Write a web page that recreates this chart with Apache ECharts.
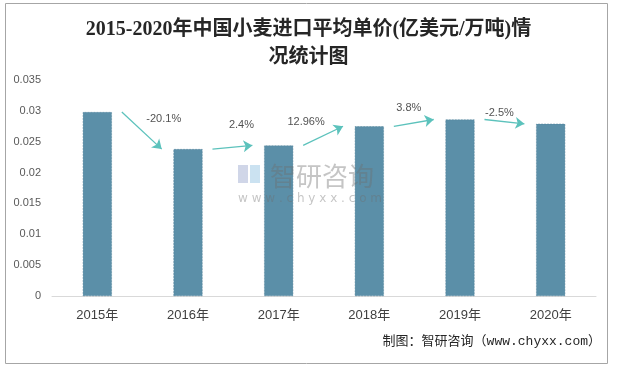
<!DOCTYPE html>
<html>
<head>
<meta charset="utf-8">
<script src="https://cdn.jsdelivr.net/npm/echarts@6/dist/echarts.min.js"></script>
<style>html,body{margin:0;padding:0;background:#fff;}#c{width:617px;height:367px;}</style>
</head>
<body>
<div id="c"></div>
<script>
const categories = ['2015年','2016年','2017年','2018年','2019年','2020年'];
const prices = [0.0298, 0.0238, 0.0244, 0.0275, 0.0286, 0.0279];
const growthLabels = ['-20.1%','2.4%','12.96%','3.8%','-2.5%'];
const yTicks = { min: 0, max: 0.035, interval: 0.005 };

// styling: arrow start/end offsets (category units) and label pixel offsets
const arrowStart = 0.27, arrowEnd = 0.71;
const labelOffsets = [[22,-12],[9,-22],[-17,-14],[-5,-15],[-5,-9]];

const arrowData = [];
const labelData = [];
for (let i = 0; i < prices.length - 1; i++) {
  const s = [i + arrowStart, prices[i]];
  const e = [i + arrowEnd, prices[i + 1]];
  arrowData.push({ coords: [s, e] });
  labelData.push({
    value: [(s[0] + e[0]) / 2, (s[1] + e[1]) / 2],
    label: { offset: labelOffsets[i], formatter: growthLabels[i] }
  });
}

const chart = echarts.init(document.getElementById('c'));
chart.setOption({
  animation: false,
  backgroundColor: '#fff',
  title: {
    text: '2015-2020年中国小麦进口平均单价(亿美元/万吨)情\n况统计图',
    left: 'center',
    top: 11,
    textStyle: {
      fontFamily: "'Liberation Serif','Noto Sans CJK SC'",
      fontSize: 20,
      fontWeight: 'bold',
      color: '#262626',
      lineHeight: 28
    }
  },
  grid: { left: 52, right: 21, top: 80, bottom: 71, containLabel: false },
  xAxis: [{
    type: 'category',
    data: categories,
    axisLine: { lineStyle: { color: '#d9d9d9', width: 1 } },
    axisTick: { show: false },
    axisLabel: { color: '#404040', fontSize: 13, margin: 13, fontFamily: "'Liberation Sans','Noto Sans CJK SC'" }
  }, {
    type: 'value', min: -0.5, max: 5.5, show: false
  }],
  yAxis: {
    type: 'value',
    min: yTicks.min, max: yTicks.max, interval: yTicks.interval,
    axisLine: { show: false },
    axisTick: { show: false },
    splitLine: { show: false },
    axisLabel: { color: '#595959', fontSize: 11, margin: 11, fontFamily: "'Liberation Sans',sans-serif" }
  },
  series: [{
    type: 'bar',
    data: prices,
    barWidth: 29,
    itemStyle: { color: '#5b8fa8', borderColor: '#4f7f96', borderWidth: 0.5, borderType: 'dashed' }
  }, {
    type: 'lines',
    coordinateSystem: 'cartesian2d',
    xAxisIndex: 1,
    symbol: ['none', 'arrow'],
    symbolSize: 9,
    lineStyle: { color: '#5cc2bc', width: 1.3, opacity: 1, curveness: 0 },
    data: arrowData,
    z: 5
  }, {
    type: 'scatter',
    xAxisIndex: 1,
    symbolSize: 0,
    data: labelData,
    label: {
      show: true, position: 'inside',
      color: '#262626', fontSize: 11,
      fontFamily: "'Liberation Sans',sans-serif"
    },
    z: 6
  }],
  graphic: [
    { type: 'rect', shape: { x: 5.5, y: 3.5, width: 602, height: 360 }, style: { fill: 'none', stroke: '#a6a6a6', lineWidth: 1 }, z: 0, silent: true },
    { type: 'group', left: 238, top: 163, zlevel: 1, z: 100, silent: true, children: [
      { type: 'rect', zlevel: 1, shape: { x: 0, y: 0, width: 10, height: 18 }, style: { fill: 'rgba(150,165,205,0.45)' } },
      { type: 'rect', zlevel: 1, shape: { x: 12, y: 0, width: 10, height: 18 }, style: { fill: 'rgba(140,190,225,0.45)' } },
      { type: 'text', zlevel: 1, x: 32, y: -2, style: { text: '智研咨询', font: "26px 'Noto Sans CJK SC'", fill: 'rgba(110,110,110,0.4)' } },
      { type: 'text', zlevel: 1, x: 0, y: 28, style: { text: 'w w w . c h y x x . c o m', font: "12px 'DejaVu Sans'", fill: 'rgba(110,110,110,0.4)' } }
    ]},
    { type: 'text', right: 16, top: 335, style: { text: '制图：智研咨询（www.chyxx.com）', font: "13px 'Liberation Mono','Noto Sans CJK SC'", fill: '#262626' } }
  ]
});
</script>
</body>
</html>
